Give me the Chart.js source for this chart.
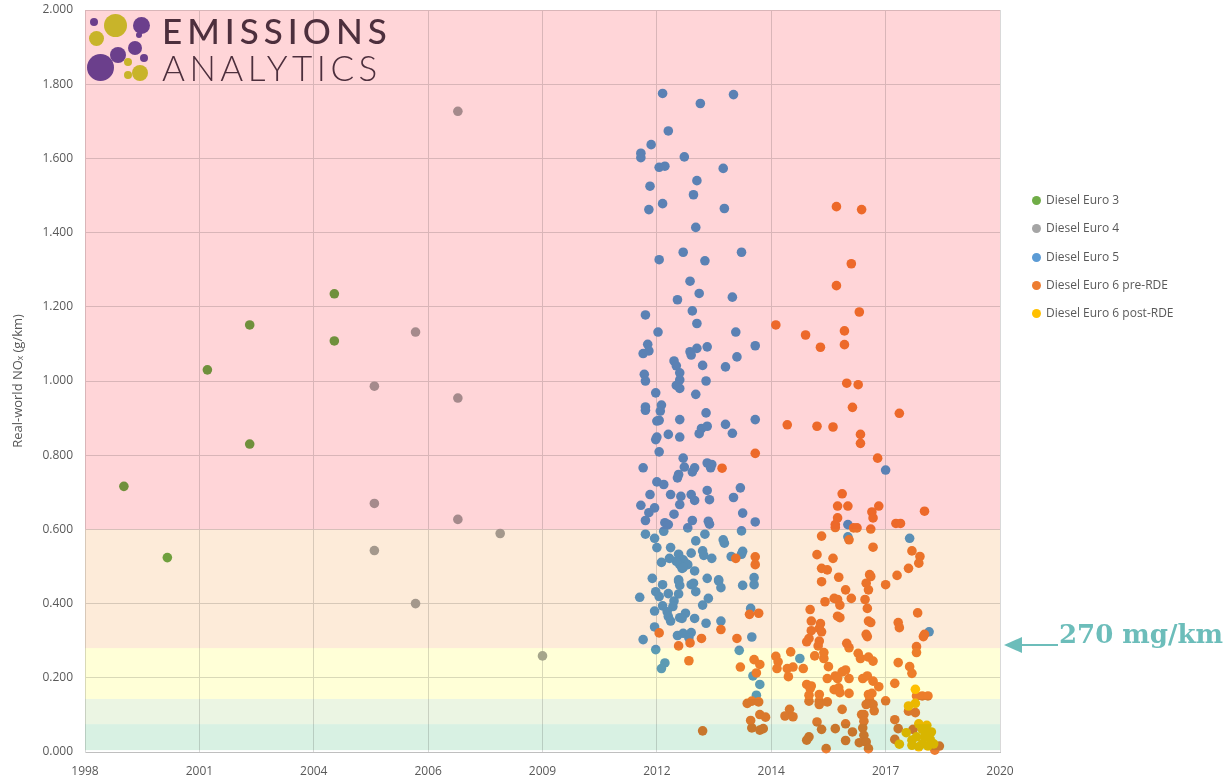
<!DOCTYPE html>
<html>
<head>
<meta charset="utf-8">
<script src="https://cdn.jsdelivr.net/npm/chart.js@4.4.1/dist/chart.umd.min.js"></script>
<style>
  html, body { margin: 0; padding: 0; background: #fff; }
  #wrap { position: relative; width: 1224px; height: 778px; }
  #chart { position: absolute; left: 0; top: 0; }
  .logo-dot { position: absolute; border-radius: 50%; }
  .logo-txt { position: absolute; left: 162px; font-family: Lato, 'Open Sans', sans-serif; color: #4d2f3d; font-size: 35px; line-height: 35px; }
  #legend { position: absolute; left: 1032px; top: 190px; font-family: 'Open Sans', sans-serif; font-size: 12px; color: #595959; }
  #legend div { height: 28.3px; line-height: 20px; white-space: nowrap; }
  #legend span.dot { display: inline-block; width: 9px; height: 9px; border-radius: 50%; margin-right: 5px; vertical-align: -1px; }
  #note { position: absolute; left: 1059px; top: 619px; font-family: 'DejaVu Serif', serif; font-weight: bold; font-size: 26px; color: #6cbdba; white-space: nowrap; }
</style>
</head>
<body>
<div id="wrap">
  <canvas id="chart" width="1224" height="778"></canvas>
  <div id="logo"></div>
  <div id="legend"></div>
  <svg style="position:absolute;left:0;top:0" width="1224" height="778">
    <line x1="1020" y1="645" x2="1058" y2="645" stroke="#6cbdba" stroke-width="2"/>
    <polygon points="1004,645 1022,637 1022,653" fill="#6cbdba"/>
  </svg>
  <div id="note">270 mg/km</div>
</div>
<script>
// axis
const xTickLabels = ['1998', '2001', '2004', '2006', '2009', '2012', '2014', '2017', '2020'];
const yMax = 2;
const yStep = 0.2;

// background bands (g/km), bottom -> top
const bandLimits = [0.005, 0.075, 0.143, 0.28, 0.6, 2.0];
const bandColors = ['#d8f1e3', '#ebf5e3', '#ffffd7', '#fdebd9', '#ffd5d8'];

const seriesNames = ['Diesel Euro 3', 'Diesel Euro 4', 'Diesel Euro 5', 'Diesel Euro 6 pre-RDE', 'Diesel Euro 6 post-RDE'];
const seriesColors = ['#70ad47', '#a5a5a5', '#5b9bd5', '#ed7d31', '#ffc000'];

// [x position on axis (tick index units), NOx g/km]
const euro3 = [[0.34,0.716],[0.72,0.524],[1.07,1.030],[1.44,1.151],[1.44,0.830],[2.18,1.235],[2.18,1.108]];

const euro4 = [[2.53,0.986],[2.53,0.670],[2.53,0.543],[2.89,1.132],[2.89,0.400],[3.26,1.727],[3.26,0.954],
  [3.26,0.627],[3.63,0.589],[4.00,0.259]];

const euro5 = [[5.05,1.775],[5.67,1.772],[5.38,1.748],[5.10,1.674],[4.95,1.637],[4.86,1.614],[4.86,1.602],[5.24,1.604],
  [5.02,1.576],[5.07,1.579],[5.58,1.573],[5.35,1.540],[4.94,1.525],[5.32,1.502],[5.05,1.478],[4.93,1.462],[5.59,1.465],
  [5.34,1.414],[5.23,1.347],[5.74,1.347],[5.02,1.327],[5.42,1.324],[5.29,1.269],[5.37,1.236],[5.18,1.219],[5.66,1.226],
  [5.31,1.189],[4.90,1.178],[5.35,1.155],[5.01,1.132],[5.69,1.132],[4.92,1.099],[4.88,1.074],[4.93,1.081],[5.29,1.079],
  [5.35,1.088],[5.30,1.070],[5.44,1.092],[5.86,1.095],[5.15,1.054],[5.17,1.041],[5.20,1.022],[5.40,1.042],[5.60,1.038],
  [5.70,1.065],[4.89,1.018],[4.90,1.000],[5.20,1.003],[5.17,0.988],[5.20,0.980],[5.43,1.000],[4.99,0.968],[5.34,0.964],
  [4.90,0.930],[4.90,0.921],[5.04,0.935],[5.03,0.919],[5.43,0.914],[5.20,0.896],[5.00,0.892],[5.02,0.894],[5.86,0.896],
  [5.60,0.883],[5.39,0.872],[5.44,0.878],[5.37,0.858],[5.66,0.859],[5.10,0.856],[5.20,0.849],[4.99,0.842],[5.00,0.849],
  [5.02,0.809],[4.88,0.766],[5.23,0.792],[5.24,0.768],[5.19,0.748],[5.18,0.739],[5.33,0.766],[5.31,0.755],[5.44,0.779],
  [5.48,0.775],[5.47,0.766],[5.00,0.728],[5.06,0.721],[5.73,0.712],[4.94,0.694],[5.12,0.694],[5.21,0.689],[5.30,0.694],
  [5.33,0.678],[5.44,0.705],[5.46,0.680],[5.67,0.686],[4.86,0.665],[4.98,0.658],[4.93,0.645],[5.20,0.667],[5.15,0.641],
  [5.75,0.644],[4.90,0.624],[5.07,0.618],[5.10,0.613],[5.31,0.624],[5.27,0.604],[5.45,0.622],[5.46,0.614],[5.86,0.620],
  [4.90,0.587],[4.98,0.576],[5.00,0.551],[5.06,0.595],[5.42,0.587],[5.34,0.569],[5.58,0.572],[5.59,0.563],[5.74,0.596],
  [5.12,0.551],[5.19,0.533],[5.23,0.518],[5.25,0.509],[5.27,0.505],[5.20,0.505],[5.17,0.514],[5.22,0.495],[5.30,0.536],
  [5.40,0.542],[5.41,0.530],[5.04,0.511],[5.11,0.522],[5.48,0.522],[5.65,0.527],[5.75,0.541],[5.74,0.533],[5.33,0.488],
  [4.96,0.468],[5.19,0.464],[5.44,0.468],[5.54,0.464],[5.85,0.470],[5.23,0.497],[5.19,0.461],[5.20,0.449],[5.05,0.451],
  [5.30,0.451],[5.32,0.455],[5.54,0.461],[5.56,0.443],[5.75,0.449],[5.85,0.451],[4.85,0.417],[4.99,0.432],[5.02,0.419],
  [5.10,0.427],[5.19,0.426],[5.34,0.432],[5.45,0.414],[5.15,0.407],[5.14,0.392],[5.05,0.394],[5.40,0.396],[4.98,0.380],
  [5.09,0.378],[5.10,0.365],[5.12,0.353],[5.20,0.362],[5.25,0.374],[5.22,0.360],[5.33,0.360],[5.43,0.347],[5.56,0.353],
  [5.82,0.387],[4.98,0.337],[5.18,0.314],[5.23,0.320],[5.30,0.322],[5.28,0.308],[4.88,0.303],[5.83,0.310],[4.99,0.276],
  [5.72,0.274],[5.07,0.240],[5.04,0.225],[5.84,0.205],[5.90,0.182],[5.87,0.153],[6.25,0.252],[7.00,0.760],[6.67,0.613],
  [6.67,0.580],[7.21,0.576],[7.38,0.324]];

const euro6pre = [[6.57,1.470],[6.79,1.462],[6.70,1.316],[6.57,1.257],[6.77,1.186],[6.04,1.151],[6.30,1.124],[6.64,1.135],
  [6.64,1.098],[6.43,1.091],[6.66,0.994],[6.76,0.990],[6.71,0.929],[7.12,0.913],[6.14,0.882],[6.40,0.878],[6.54,0.876],
  [6.78,0.856],[6.78,0.832],[6.93,0.792],[5.86,0.805],[5.57,0.765],[6.62,0.696],[6.58,0.663],[6.67,0.663],[6.94,0.663],
  [6.88,0.647],[6.89,0.631],[7.34,0.649],[6.58,0.631],[6.56,0.613],[6.56,0.605],[6.72,0.604],[6.75,0.604],[6.87,0.601],
  [7.09,0.616],[7.13,0.616],[6.44,0.582],[6.68,0.572],[6.89,0.552],[7.23,0.542],[7.30,0.527],[7.29,0.509],[6.40,0.532],
  [6.54,0.522],[6.44,0.495],[6.49,0.491],[6.86,0.478],[6.87,0.473],[6.59,0.471],[7.10,0.476],[7.20,0.495],[6.44,0.459],
  [6.83,0.455],[6.85,0.437],[7.00,0.451],[6.65,0.437],[6.55,0.414],[6.58,0.411],[6.60,0.396],[6.70,0.414],[6.82,0.411],
  [6.47,0.405],[6.84,0.387],[6.34,0.384],[6.58,0.366],[6.60,0.362],[7.28,0.375],[6.35,0.353],[6.43,0.346],[6.42,0.333],
  [6.44,0.324],[6.85,0.353],[6.87,0.349],[7.11,0.349],[7.12,0.335],[6.35,0.327],[6.83,0.317],[6.84,0.311],[7.33,0.311],
  [7.34,0.317],[6.33,0.306],[6.31,0.297],[6.42,0.299],[6.41,0.286],[6.66,0.293],[6.68,0.281],[7.27,0.284],[7.27,0.268],
  [5.86,0.505],[5.69,0.522],[5.86,0.526],[5.81,0.371],[5.89,0.374],[5.56,0.330],[5.02,0.321],[5.39,0.306],[5.70,0.306],
  [5.19,0.286],[5.29,0.294],[5.28,0.246],[5.85,0.249],[5.90,0.236],[5.73,0.229],[5.87,0.213],[6.04,0.258],[6.06,0.243],
  [6.05,0.225],[6.17,0.270],[6.14,0.225],[6.19,0.229],[6.15,0.203],[5.79,0.131],[5.83,0.137],[5.89,0.135],[5.90,0.101],
  [5.95,0.094],[5.82,0.085],[5.83,0.065],[5.90,0.059],[5.93,0.063],[6.16,0.115],[6.12,0.097],[6.19,0.095],[5.40,0.057],
  [6.38,0.259],[6.46,0.252],[6.46,0.268],[6.76,0.266],[6.78,0.252],[6.85,0.256],[6.89,0.245],[6.50,0.230],[6.28,0.225],
  [7.11,0.241],[7.21,0.230],[7.23,0.212],[6.56,0.205],[6.62,0.216],[6.65,0.221],[6.58,0.198],[6.68,0.198],[6.49,0.198],
  [6.80,0.198],[6.84,0.205],[6.89,0.191],[6.94,0.176],[7.08,0.185],[6.31,0.182],[6.35,0.178],[6.34,0.171],[6.55,0.168],
  [6.59,0.173],[6.60,0.160],[6.68,0.158],[6.42,0.155],[6.42,0.137],[6.42,0.128],[6.33,0.153],[6.33,0.137],[6.49,0.135],
  [6.85,0.155],[6.88,0.158],[6.86,0.140],[6.89,0.128],[6.83,0.128],[7.00,0.138],[6.62,0.115],[6.90,0.111],[6.79,0.101],
  [6.81,0.101],[6.81,0.083],[6.80,0.065],[6.40,0.081],[6.65,0.076],[6.44,0.061],[6.56,0.063],[6.71,0.054],[6.81,0.045],
  [6.33,0.041],[6.31,0.032],[6.65,0.031],[6.77,0.025],[6.83,0.027],[6.48,0.009],[6.85,0.009],[7.27,0.151],[7.32,0.151],
  [7.37,0.151],[7.20,0.110],[7.26,0.106],[7.08,0.087],[7.11,0.063],[7.24,0.061],[7.08,0.034],[7.47,0.016],[7.43,0.005]];

const euro6post = [[7.26,0.169],[7.26,0.131],[7.20,0.124],[7.29,0.076],[7.36,0.072],[7.18,0.052],[7.32,0.061],[7.36,0.054],
  [7.40,0.054],[7.34,0.041],[7.23,0.032],[7.27,0.041],[7.39,0.034],[7.12,0.021],[7.23,0.018],[7.29,0.014],[7.37,0.016],
  [7.42,0.022],[7.32,0.022]];

const seriesData = [euro3, euro4, euro5, euro6pre, euro6post];

// logo bubbles [left, top, diameter, colour]
const logoDots = [
  [90, 18, 8, '#6b3f8c'], [104, 14, 23, '#c8b42a'], [89, 31, 15, '#c8b42a'], [133, 17, 17, '#6b3f8c'],
  [136, 32, 6, '#6b3f8c'], [87, 54, 27, '#6b3f8c'], [110, 47, 16, '#6b3f8c'], [128, 41, 14, '#6b3f8c'],
  [140, 54, 8, '#6b3f8c'], [124, 58, 8, '#c8b42a'], [132, 65, 16, '#c8b42a'], [124, 71, 8, '#c8b42a']
];

const logo = document.getElementById('logo');
logoDots.forEach(d => {
  const el = document.createElement('div');
  el.className = 'logo-dot';
  el.style.cssText = `left:${d[0]}px;top:${d[1]}px;width:${d[2]}px;height:${d[2]}px;background:${d[3]}`;
  logo.appendChild(el);
});
logo.insertAdjacentHTML('beforeend',
  '<div class="logo-txt" style="top:13px;font-weight:500;letter-spacing:5px">EMISSIONS</div>' +
  '<div class="logo-txt" style="top:50px;font-weight:300;letter-spacing:4.5px">ANALYTICS</div>');

const legendEl = document.getElementById('legend');
seriesNames.forEach((name, i) => {
  legendEl.insertAdjacentHTML('beforeend',
    `<div><span class="dot" style="background:${seriesColors[i]}"></span>${name}</div>`);
});

// coloured zones are laid over grid and points, blended like the original
const bandPlugin = {
  id: 'bands',
  afterDatasetsDraw(chart) {
    const { ctx, chartArea, scales } = chart;
    ctx.save();
    ctx.globalCompositeOperation = 'multiply';
    for (let i = 0; i < bandColors.length; i++) {
      const top = scales.y.getPixelForValue(bandLimits[i + 1]);
      const bottom = scales.y.getPixelForValue(bandLimits[i]);
      ctx.fillStyle = bandColors[i];
      ctx.fillRect(chartArea.left, top, chartArea.right - chartArea.left, bottom - top);
    }
    ctx.restore();
  }
};

const tickFont = { family: "'Open Sans', sans-serif", size: 12 };

new Chart(document.getElementById('chart'), {
  type: 'scatter',
  data: {
    datasets: seriesData.map((pts, i) => ({
      label: seriesNames[i],
      data: pts.map(p => ({ x: p[0], y: p[1] })),
      backgroundColor: seriesColors[i],
      borderWidth: 0,
      pointRadius: 4.8,
      pointHoverRadius: 4.8,
      order: seriesData.length - i,
      clip: false
    }))
  },
  options: {
    responsive: false,
    animation: false,
    layout: { autoPadding: false, padding: { top: 10, right: 224, left: 0, bottom: 0 } },
    plugins: { legend: { display: false }, tooltip: { enabled: false } },
    scales: {
      x: {
        type: 'linear',
        min: 0,
        max: xTickLabels.length - 1,
        afterFit(scale) {
          scale.height = 26;
          scale.paddingLeft = 0;
          scale.paddingRight = 0;
        },
        grid: { color: '#d9d9d9', drawTicks: false },
        border: { color: '#bfbfbf' },
        ticks: {
          stepSize: 1,
          padding: 12,
          color: '#595959',
          font: tickFont,
          maxRotation: 0,
          callback: v => xTickLabels[v]
        }
      },
      y: {
        min: 0,
        max: yMax,
        afterFit(scale) {
          scale.width = 85;
          scale.paddingTop = 0;
          scale.paddingBottom = 0;
        },
        grid: { color: '#d9d9d9', drawTicks: false },
        border: { color: '#d9d9d9' },
        title: {
          display: true,
          text: 'Real-world NOₓ (g/km)',
          color: '#595959',
          font: { family: "'Open Sans', sans-serif", size: 13 },
          padding: { top: 10, bottom: 0 }
        },
        ticks: {
          stepSize: yStep,
          padding: 12,
          color: '#595959',
          font: tickFont,
          callback: v => v.toFixed(3)
        }
      }
    }
  },
  plugins: [bandPlugin]
});
</script>
</body>
</html>
